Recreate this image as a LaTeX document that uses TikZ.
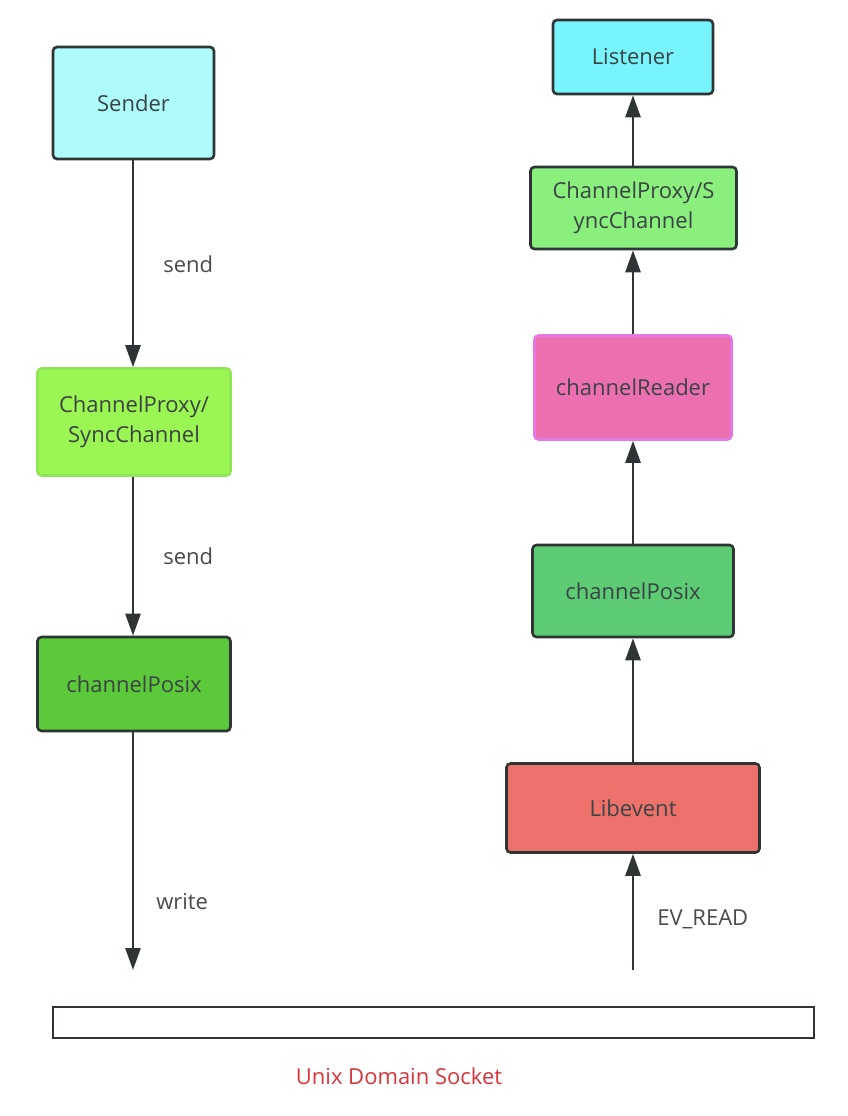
\documentclass[tikz,border=0pt]{standalone}
\usepackage{fontspec}
\setmainfont{Open Sans}
\usetikzlibrary{arrows.meta}
\definecolor{edge}{HTML}{2F3535}
\definecolor{txt}{HTML}{3A4444}
\definecolor{lbl}{HTML}{4A4A4A}
\definecolor{cyanA}{HTML}{AEFBFC}
\definecolor{cyanB}{HTML}{78F4FD}
\definecolor{greenA}{HTML}{9BF552}
\definecolor{greenAb}{HTML}{90E656}
\definecolor{greenB}{HTML}{5CC93A}
\definecolor{greenC}{HTML}{8AEF7C}
\definecolor{greenD}{HTML}{5DCB74}
\definecolor{pinkA}{HTML}{EC70B0}
\definecolor{pinkAb}{HTML}{E676E2}
\definecolor{redA}{HTML}{EC716B}
\definecolor{sockred}{HTML}{D8353D}
\begin{document}
\begin{tikzpicture}[x=1pt,y=-1pt,
  box/.style={draw=edge,line width=2.6pt,rounded corners=4pt,align=center,
    font=\fontsize{22}{30}\selectfont,text=txt,inner sep=0pt},
  conn/.style={draw=edge,line width=2.6pt,-{Triangle[length=22pt,width=15pt]}},
  lab/.style={font=\fontsize{22}{26}\selectfont,text=lbl,inner sep=0pt},
]
\useasboundingbox (0,0) rectangle (848,1116);
% left column
\node[box,fill=cyanA,minimum width=161pt,minimum height=112pt] (sender) at (133.5,103) {Sender};
\node[box,fill=greenA,draw=greenAb,minimum width=193pt,minimum height=107pt] (lproxy) at (134,422) {ChannelProxy/\\SyncChannel};
\node[box,fill=greenB,minimum width=193pt,minimum height=94pt] (lposix) at (134,684) {channelPosix};
\coordinate (lend) at (133,970);
\draw[conn] (sender.south -| 133,0) -- (lproxy.north -| 133,0) node[lab,midway,right=29pt] {send};
\draw[conn] (lproxy.south -| 133,0) -- (lposix.north -| 133,0) node[lab,midway,right=29pt] {send};
\draw[conn] (lposix.south -| 133,0) -- (lend) node[lab,pos=0.71,right=22pt] {write};
% right column
\node[box,fill=cyanB,minimum width=160pt,minimum height=74pt] (listener) at (633,57) {Listener};
\node[box,fill=greenC,minimum width=206pt,minimum height=82pt] (rproxy) at (633.5,208) {ChannelProxy/S\\yncChannel};
\node[box,fill=pinkA,draw=pinkAb,minimum width=197pt,minimum height=104pt] (reader) at (633,387.5) {channelReader};
\node[box,fill=greenD,minimum width=201pt,minimum height=92pt] (rposix) at (633,591) {channelPosix};
\node[box,fill=redA,minimum width=253pt,minimum height=89pt] (libevent) at (633,808) {Libevent};
\coordinate (rstart) at (633,970);
\draw[conn] (rproxy.north -| 633,0) -- (listener.south -| 633,0);
\draw[conn] (reader.north -| 633,0) -- (rproxy.south -| 633,0);
\draw[conn] (rposix.north -| 633,0) -- (reader.south -| 633,0);
\draw[conn] (libevent.north -| 633,0) -- (rposix.south -| 633,0);
\draw[conn] (rstart) -- (libevent.south -| 633,0) node[lab,pos=0.44,right=23pt] {EV\_READ};
% socket
\node[draw=edge,line width=2.6pt,minimum width=761pt,minimum height=31pt,inner sep=0pt] (socket) at (433.5,1022.5) {};
\node[font=\fontsize{22}{26}\selectfont,text=sockred] (socklbl) at (399,1076) {Unix Domain Socket};
\end{tikzpicture}
\end{document}
